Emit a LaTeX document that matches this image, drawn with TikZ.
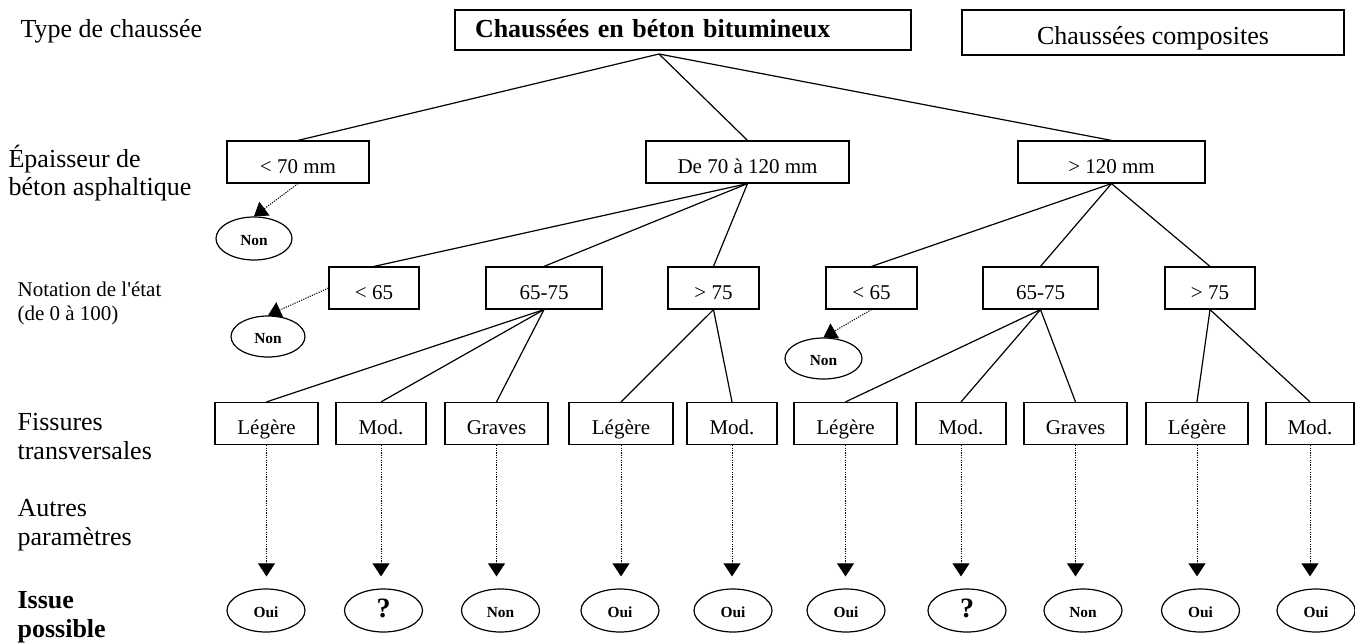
\documentclass[tikz,border=0pt]{standalone}
\usepackage{fontspec}
\setmainfont{Liberation Serif}
\usetikzlibrary{shapes.geometric,arrows.meta}

\begin{document}
\begin{tikzpicture}[x=0.5pt, y=-0.5pt, line width=0.6pt,
	box/.style={draw, rectangle, minimum height=21pt, inner sep=0pt, text height=11pt, text depth=0pt, font=\fontsize{10.5}{12}\selectfont},
	issue/.style={draw, ellipse, minimum width=39pt, minimum height=21.5pt, inner sep=0pt, text height=7pt, text depth=0pt, font=\fontsize{7.7}{9}\selectfont\bfseries},
	lab/.style={anchor=base west, align=left, inner sep=0pt, font=\fontsize{13}{14.5}\selectfont},
	hint/.style={line width=0.5pt, dash pattern=on 0.6pt off 0.6pt, -{Triangle[length=6.5pt,width=8.5pt]}}]
	\useasboundingbox (0,0) rectangle (1355,643);

	\node[lab] (ltype) at (20,37) {Type de chaussée};
	\node[lab, font=\fontsize{13}{14}\selectfont] (lepais) at (8,195) {Épaisseur de\\béton asphaltique};
	\node[lab, font=\fontsize{10.5}{12}\selectfont] (lnote) at (17,320) {Notation de l\textquotesingle état\\(de 0 à 100)};
	\node[lab] (lfiss) at (17,459) {Fissures\\transversales};
	\node[lab] (lautre) at (17,545) {Autres\\paramètres};
	\node[lab, font=\fontsize{13}{14.5}\selectfont\bfseries] (lissue) at (17,637) {Issue\\possible};

	\node[box, font=\fontsize{13}{15}\selectfont\bfseries, text width=208pt, inner xsep=10pt, align=left, minimum height=20pt, text height=9pt, text depth=2pt] (root) at (683,30) {Chaussées en béton bitumineux};
	\node[box, font=\fontsize{13}{15}\selectfont, minimum width=191pt, minimum height=22.5pt, text height=12pt] (comp) at (1153,32.5) {Chaussées composites};
	\coordinate (rootj) at (659,54);

	\node[box, minimum width=71pt] (lt70) at (298,162) {< 70 mm};
	\node[box, minimum width=101.5pt] (d70) at (747.5,162) {De 70 à 120 mm};
	\node[box, minimum width=93.5pt] (gt120) at (1111.5,162) {> 120 mm};

	\node[box, minimum width=45pt] (lt65a) at (374,288) {< 65};
	\node[box, minimum width=58pt] (m65a) at (544,288) {65-75};
	\node[box, minimum width=45.5pt] (gt75a) at (713.5,288) {> 75};
	\node[box, minimum width=45.5pt] (lt65b) at (871.5,288) {< 65};
	\node[box, minimum width=57.5pt] (m65b) at (1040.5,288) {65-75};
	\node[box, minimum width=45pt] (gt75b) at (1210,288) {> 75};

	\node[issue, minimum width=38pt] (nonA) at (254,238.5) {Non};
	\node[issue, minimum width=37pt, minimum height=20.5pt] (nonB) at (268,336.5) {Non};
	\node[issue, minimum width=38.5pt, minimum height=20.5pt] (nonC) at (823.5,358.5) {Non};

	\foreach \n/\x/\w/\t/\ox/\r in {leg1/266.5/51.5/Légère/266/Oui, mod1/381/45/Mod./383.5/{\fontsize{14}{15}\selectfont ?},
		grv1/496.5/51.5/Graves/500.5/Non, leg2/621/52/Légère/620/Oui, mod2/732/45/Mod./733/Oui,
		leg3/845.5/51.5/Légère/846/Oui, mod3/961/45/Mod./967/{\fontsize{14}{15}\selectfont ?},
		grv2/1075.5/51.5/Graves/1083/Non, leg4/1197/51/Légère/1200.5/Oui, mod4/1310/44/Mod./1316/Oui}
	{
		\node[box, minimum width=\w pt] (\n) at (\x,423.5) {\t};
		\node[issue] (res\n) at (\ox,610.5) {\r};
		\draw[hint, shorten >=6pt] (\n.south) -- (\n.south |- res\n.north);
	}

	\foreach \t in {lt70,d70,gt120} \draw (rootj) -- (\t.north);
	\foreach \t in {lt65a,m65a,gt75a} \draw (d70.south) -- (\t.north);
	\foreach \t in {lt65b,m65b,gt75b} \draw (gt120.south) -- (\t.north);
	\foreach \t in {leg1,mod1,grv1} \draw (m65a.south) -- (\t.north);
	\foreach \t in {leg2,mod2} \draw (gt75a.south) -- (\t.north);
	\foreach \t in {leg3,mod3,grv2} \draw (m65b.south) -- (\t.north);
	\foreach \t in {leg4,mod4} \draw (gt75b.south) -- (\t.north);

	\draw[hint] (lt70.south) -- (nonA.north);
	\draw[hint] (lt65a.west) -- (nonB.north);
	\draw[hint] (lt65b.south) -- (nonC.north);
\end{tikzpicture}
\end{document}
